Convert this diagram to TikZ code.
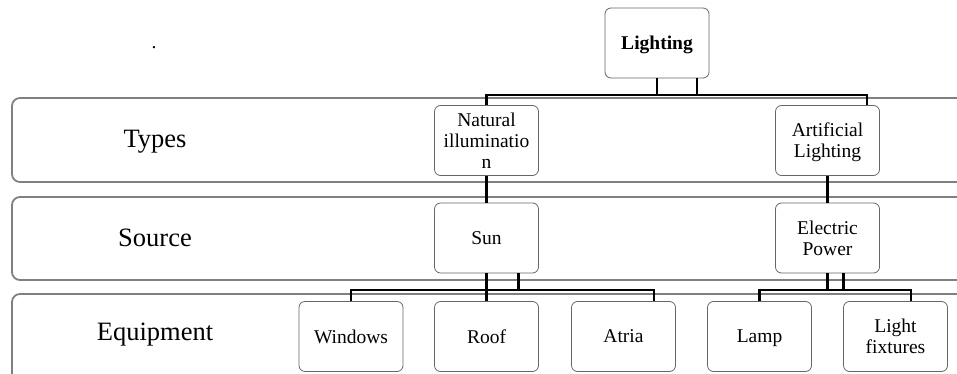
\documentclass[tikz,border=0pt]{standalone}
\usepackage{fontspec}
\setmainfont{Liberation Serif}
\usetikzlibrary{positioning}

\begin{document}
\begin{tikzpicture}[x=1pt, y=-1pt, node distance=136pt,
    box/.style={draw=black!60, line width=0.8pt, rounded corners=6pt, fill=white,
      minimum width=104pt, minimum height=70pt, align=center, inner sep=1pt,
      text depth=0pt, font=\fontsize{19.5}{21}\selectfont},
    band/.style={draw=black!50, line width=1.8pt, rounded corners=8pt},
    bandtext/.style={font=\fontsize{26.5}{30}\selectfont},
    link/.style={line width=2.2pt}]
    \useasboundingbox (0,0) rectangle (957,374);

    % layer bands
    \draw[band] (12,98) rectangle (975,182);
    \draw[band] (12,197) rectangle (975,280);
    \draw[band] (12,294) rectangle (975,395);
    \node[bandtext] (types) at (155,142) {Types};
    \node[bandtext] (source) at (155,238) {Source};
    \node[bandtext] (equipment) at (155,335) {Equipment};
    \node[anchor=base, font=\fontsize{19.5}{21}\selectfont] (dot) at (154,49) {.};

    \node[box] (lighting) at (657,43) {\textbf{Lighting}};
    \node[box] (natural) at (486.5,140.5) {Natural\\illuminatio\\n};
    \node[box] (artificial) at (827.5,140.5) {Artificial\\Lighting};
    \node[box, below of=natural, node distance=97.5pt] (sun) {Sun};
    \node[box, below of=artificial, node distance=97.5pt] (electric) {Electric\\Power};
    \node[box] (windows) at (351,336.5) {Windows};
    \node[box, right of=windows, node distance=135.5pt] (roof) {Roof};
    \node[box, right of=roof, node distance=137pt] (atria) {Atria};
    \node[box, right of=atria] (lamp) {Lamp};
    \node[box, right of=lamp] (fixtures) {Light\\fixtures};

    \coordinate (busA) at (0,95);
    \coordinate (busB) at (0,290);

    \draw[link] (lighting.south) -- (lighting.south |- busA) -| ([xshift=40pt]lighting.south);
    \draw[link] (natural.north) |- ([xshift=39.5pt]artificial.north |- busA) -- ([xshift=39.5pt]artificial.north);
    \draw[link] (natural) -- (sun);
    \draw[link] (artificial) -- (electric);
    % sun branch
    \draw[link] (sun.south) -- (roof.north);
    \draw[link] ([xshift=32pt]sun.south) -- ([xshift=32pt]sun.south |- busB);
    \draw[link] (windows.north) |- ([xshift=30.5pt]atria.north |- busB) -- ([xshift=30.5pt]atria.north);
    % electric branch
    \draw[link] (electric.south) -- (electric.south |- busB) -| ([xshift=16pt]electric.south);
    \draw[link] (lamp.north) |- ([xshift=15.5pt]fixtures.north |- busB) -- ([xshift=15.5pt]fixtures.north);
\end{tikzpicture}
\end{document}
